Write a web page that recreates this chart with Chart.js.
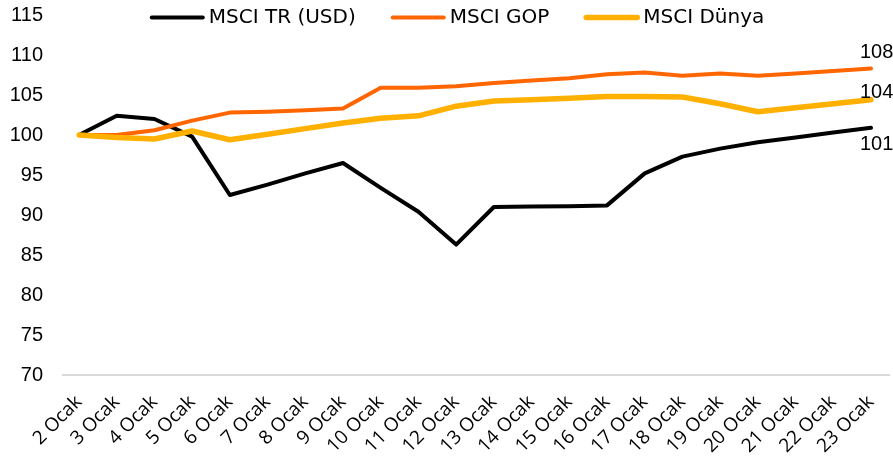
<!DOCTYPE html>
<html>
<head>
<meta charset="utf-8">
<script src="https://cdn.jsdelivr.net/npm/chart.js@4/dist/chart.umd.min.js"></script>
<style>
  html, body { margin: 0; padding: 0; background: #ffffff; }
  #wrap { width: 893px; height: 456px; position: relative; }
</style>
</head>
<body>
<div id="wrap"><canvas id="c" width="893" height="456"></canvas></div>
<script>
const categories = ['2 Ocak','3 Ocak','4 Ocak','5 Ocak','6 Ocak','7 Ocak','8 Ocak','9 Ocak','10 Ocak','11 Ocak','12 Ocak','13 Ocak','14 Ocak','15 Ocak','16 Ocak','17 Ocak','18 Ocak','19 Ocak','20 Ocak','21 Ocak','22 Ocak','23 Ocak'];
const seriesNames = ['MSCI TR (USD)', 'MSCI GOP', 'MSCI Dünya'];
const msciTR    = [100, 102.4, 102.0, 99.8, 92.5, 93.8, 95.2, 96.5, 93.4, 90.4, 86.3, 91.0, 91.05, 91.1, 91.2, 95.2, 97.3, 98.3, 99.1, 99.7, 100.3, 100.9];
const msciGOP   = [100, 100.0, 100.6, 101.8, 102.8, 102.9, 103.1, 103.3, 105.9, 105.9, 106.1, 106.5, 106.8, 107.1, 107.6, 107.8, 107.4, 107.7, 107.4, 107.7, 108.0, 108.3];
const msciDunya = [100, 99.7, 99.5, 100.5, 99.4, 100.1, 100.8, 101.5, 102.1, 102.4, 103.6, 104.25, 104.4, 104.6, 104.8, 104.8, 104.75, 103.9, 102.9, 103.4, 103.9, 104.4];
const yTicks = [70, 75, 80, 85, 90, 95, 100, 105, 110, 115];

const colors = ['#000000', '#FF6600', '#FFB000'];
const widths = [4, 4, 5.5];
const endOffsets = [17, -16, -7];

const baselinePlugin = {
  id: 'baseline',
  beforeDatasetsDraw(chart) {
    const {ctx, chartArea} = chart;
    const y = chart.scales.y.getPixelForValue(yTicks[0]);
    ctx.save();
    ctx.strokeStyle = '#d9d9d9';
    ctx.lineWidth = 2;
    ctx.beginPath();
    ctx.moveTo(chartArea.left - 17, y);
    ctx.lineTo(chart.width - 3, y);
    ctx.stroke();
    ctx.restore();
  }
};

const endLabelPlugin = {
  id: 'endLabels',
  afterDatasetsDraw(chart) {
    const {ctx} = chart;
    ctx.save();
    ctx.font = '20px "Liberation Sans", Arial, sans-serif';
    ctx.fillStyle = '#000000';
    ctx.textAlign = 'left';
    ctx.textBaseline = 'middle';
    chart.data.datasets.forEach((ds, i) => {
      const meta = chart.getDatasetMeta(i);
      const last = meta.data[meta.data.length - 1];
      const v = ds.data[ds.data.length - 1];
      ctx.fillText(String(Math.round(v)), last.x - 11, last.y + ds.endOffset);
    });
    ctx.restore();
  }
};

const legendPlugin = {
  id: 'topLegend',
  afterDraw(chart) {
    const {ctx, chartArea} = chart;
    const lineLen = 55, gap = 4, itemGap = 35;
    ctx.save();
    ctx.font = '20px "DejaVu Sans", sans-serif';
    ctx.textBaseline = 'middle';
    ctx.textAlign = 'left';
    const dsets = chart.data.datasets.slice().sort((a, b) => a.legendIndex - b.legendIndex);
    const items = dsets.map(ds => ({ds, w: lineLen + gap + ctx.measureText(ds.label).width}));
    const total = items.reduce((s, it) => s + it.w, 0) + itemGap * (items.length - 1);
    const cx = (chartArea.left + chartArea.right) / 2 - 18;
    let x = cx - total / 2;
    const y = 17.5;
    items.forEach(it => {
      ctx.strokeStyle = it.ds.borderColor;
      ctx.lineWidth = it.ds.borderWidth;
      ctx.lineCap = 'round';
      ctx.beginPath();
      ctx.moveTo(x + 2, y);
      ctx.lineTo(x + lineLen - 2, y);
      ctx.stroke();
      ctx.fillStyle = '#000000';
      ctx.fillText(it.ds.label, x + lineLen + gap, y);
      x += it.w + itemGap;
    });
    ctx.restore();
  }
};

const seriesData = [msciTR, msciGOP, msciDunya];
const datasets = seriesData.map((d, i) => ({
  label: seriesNames[i],
  data: d,
  borderColor: colors[i],
  backgroundColor: colors[i],
  borderWidth: widths[i],
  pointRadius: 0,
  tension: 0,
  fill: false,
  order: 2 - i,
  legendIndex: i,
  endOffset: endOffsets[i],
  borderJoinStyle: 'round',
  borderCapStyle: 'round'
}));

new Chart(document.getElementById('c'), {
  type: 'line',
  data: { labels: categories, datasets },
  options: {
    responsive: false,
    animation: false,
    devicePixelRatio: 1,
    layout: { padding: { top: 15, right: 22, left: 0, bottom: 0 } },
    plugins: { legend: { display: false }, tooltip: { enabled: false } },
    scales: {
      x: {
        type: 'category',
        offset: false,
        grid: { display: false, drawTicks: false },
        border: { display: false },
        ticks: {
          autoSkip: false,
          minRotation: 45,
          maxRotation: 45,
          padding: 16,
          color: '#000000',
          font: { family: '"Open Sans", sans-serif', size: 19 }
        },
        afterFit(scale) { scale.height = 81; scale.paddingLeft = 0; scale.paddingRight = 0; }
      },
      y: {
        min: yTicks[0],
        max: yTicks[yTicks.length - 1],
        grid: { display: false, drawTicks: false },
        border: { display: false },
        afterBuildTicks(scale) { scale.ticks = yTicks.map(v => ({ value: v })); },
        ticks: {
          padding: 36,
          color: '#000000',
          font: { family: '"Liberation Sans", Arial, sans-serif', size: 20 }
        },
        afterFit(scale) { scale.width = 79; scale.paddingTop = 0; scale.paddingBottom = 0; }
      }
    }
  },
  plugins: [baselinePlugin, endLabelPlugin, legendPlugin]
});
</script>
</body>
</html>
